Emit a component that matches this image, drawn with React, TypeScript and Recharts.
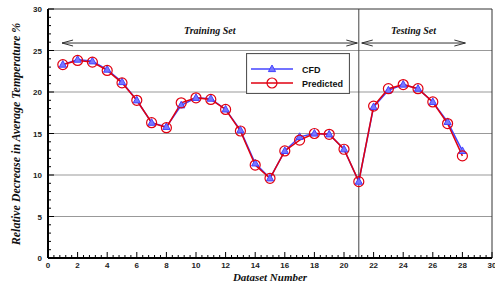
import React from 'react';
import { LineChart, Line, XAxis, YAxis, ReferenceLine } from 'recharts';

const datasetNumbers = [1, 2, 3, 4, 5, 6, 7, 8, 9, 10, 11, 12, 13, 14, 15, 16, 17, 18, 19, 20, 21, 22, 23, 24, 25, 26, 27, 28];
const cfdValues = [23.3, 23.9, 23.7, 22.7, 21.2, 19.0, 16.3, 15.8, 18.4, 19.3, 19.2, 17.9, 15.4, 11.4, 9.6, 12.9, 14.6, 15.0, 14.9, 13.1, 9.2, 18.2, 20.2, 20.9, 20.4, 18.8, 16.4, 12.9];
const predictedValues = [23.3, 23.8, 23.6, 22.6, 21.1, 19.0, 16.3, 15.7, 18.7, 19.3, 19.1, 17.9, 15.3, 11.2, 9.6, 12.9, 14.2, 15.0, 14.9, 13.1, 9.2, 18.3, 20.4, 20.9, 20.4, 18.8, 16.2, 12.3];

const xMajorTicks = [0, 2, 4, 6, 8, 10, 12, 14, 16, 18, 20, 22, 24, 26, 28, 30];
const yMajorTicks = [0, 5, 10, 15, 20, 25, 30];
const gridValues = [5, 10, 15, 20, 25];
const splitAt = 21;
const arrowLevel = 25.9;
const trainingRange = [0.95, 20.9];
const testingRange = [21.2, 28.2];

const xAllTicks: number[] = [];
for (let i = 0; i <= 75; i++) xAllTicks.push(Math.round(i * 4) / 10);
const yAllTicks: number[] = [];
for (let i = 0; i <= 30; i++) yAllTicks.push(i);

const data = datasetNumbers.map((n, i) => ({ n, cfd: cfdValues[i], pred: predictedValues[i] }));

const BLUE = '#4444ff';
const RED = '#e00010';
const serif = '"Liberation Serif", "DejaVu Serif", serif';
const sans = '"Liberation Sans", Arial, sans-serif';

const XTick = (props: any) => {
  const { x, y, payload } = props;
  const v = payload.value;
  const major = xMajorTicks.some((t) => Math.abs(t - v) < 1e-6);
  return (
    <g>
      <line x1={x} x2={x} y1={y} y2={y - (major ? 6 : 3)} stroke="#000" strokeWidth={1} />
      {major && (
        <text x={x} y={y + 10} textAnchor="middle" fontSize={8} fontWeight="bold" fontFamily={sans} fill="#222">
          {v}
        </text>
      )}
    </g>
  );
};

const YTick = (props: any) => {
  const { x, y, payload } = props;
  const v = payload.value;
  const major = yMajorTicks.includes(v);
  return (
    <g>
      <line x1={x} x2={x + (major ? 6 : 3)} y1={y} y2={y} stroke="#000" strokeWidth={1} />
      {major && (
        <text x={x - 6} y={y + 3} textAnchor="end" fontSize={8} fontWeight="bold" fontFamily={sans} fill="#222">
          {v}
        </text>
      )}
    </g>
  );
};

const Triangle = (props: any) => {
  const { cx, cy } = props;
  if (cx == null || cy == null) return null;
  return <path d={`M${cx},${cy - 4} L${cx + 3.6},${cy + 2.6} L${cx - 3.6},${cy + 2.6} Z`} fill="#7777ff" stroke={BLUE} strokeWidth={1} />;
};

const Circle = (props: any) => {
  const { cx, cy } = props;
  if (cx == null || cy == null) return null;
  return <circle cx={cx} cy={cy} r={5} fill="none" stroke={RED} strokeWidth={1.2} />;
};

const makeArrow = (label: string) => (props: any) => {
  const { x1, y1, x2, y2 } = props;
  const lx = Math.min(x1, x2);
  const rx = Math.max(x1, x2);
  const y = y1;
  return (
    <g>
      <line x1={lx} x2={rx} y1={y} y2={y2} stroke="#333" strokeWidth={1} />
      <path d={`M${lx + 11},${y - 3} L${lx},${y} L${lx + 11},${y + 3}`} fill="none" stroke="#333" strokeWidth={1} />
      <path d={`M${rx - 11},${y - 3} L${rx},${y} L${rx - 11},${y + 3}`} fill="none" stroke="#333" strokeWidth={1} />
      <text x={(lx + rx) / 2} y={y - 9} textAnchor="middle" fontSize={10} fontWeight="bold" fontStyle="italic" fontFamily={serif} fill="#111">
        {label}
      </text>
    </g>
  );
};

const LegendBox = () => (
  <svg width={104} height={41} style={{ display: 'block' }}>
    <rect x={0.5} y={0.5} width={103} height={40} fill="#fff" stroke="#555" strokeWidth={1.2} />
    <line x1={5} x2={47} y1={16} y2={16} stroke={BLUE} strokeWidth={1.5} />
    <Triangle cx={26} cy={16} />
    <text x={56} y={19.5} fontSize={9} fontWeight="bold" fontFamily={sans} fill="#111">CFD</text>
    <line x1={5} x2={47} y1={30} y2={30} stroke={RED} strokeWidth={1.5} />
    <Circle cx={26} cy={30} />
    <text x={56} y={33.5} fontSize={9} fontWeight="bold" fontFamily={sans} fill="#111">Predicted</text>
  </svg>
);

export default function App() {
  return (
    <div style={{ position: 'absolute', left: 0, top: 0, width: 495, height: 284, background: '#fff' }}>
      <LineChart width={495} height={284} data={data} margin={{ top: 9, right: 3, left: 0, bottom: 0 }}>
        {gridValues.map((g) => (
          <ReferenceLine key={g} y={g} stroke="#999" strokeWidth={1} />
        ))}
        <ReferenceLine y={30} stroke="#333" strokeWidth={1} />
        <ReferenceLine x={30} stroke="#333" strokeWidth={1} />
        <ReferenceLine x={splitAt} stroke="#444" strokeWidth={1} />
        <ReferenceLine
          segment={[{ x: trainingRange[0], y: arrowLevel }, { x: trainingRange[1], y: arrowLevel }]}
          shape={makeArrow('Training Set')}
        />
        <ReferenceLine
          segment={[{ x: testingRange[0], y: arrowLevel }, { x: testingRange[1], y: arrowLevel }]}
          shape={makeArrow('Testing Set')}
        />
        <XAxis
          dataKey="n"
          type="number"
          domain={[0, 30]}
          ticks={xAllTicks}
          interval={0}
          tickSize={0}
          tickMargin={0}
          tick={<XTick />}
          height={26}
          axisLine={{ stroke: '#000', strokeWidth: 2 }}
          allowDataOverflow
          label={{
            content: () => (
              <text x={270} y={281} textAnchor="middle" fontSize={11} fontWeight="bold" fontStyle="italic" fontFamily={serif} fill="#111">
                Dataset Number
              </text>
            ),
          }}
        />
        <YAxis
          type="number"
          domain={[0, 30]}
          ticks={yAllTicks}
          interval={0}
          tickSize={0}
          tickMargin={0}
          tick={<YTick />}
          width={48}
          axisLine={{ stroke: '#000', strokeWidth: 2 }}
          allowDataOverflow
          label={{
            content: () => (
              <text
                x={20}
                y={134}
                transform="rotate(-90 20 134)"
                textAnchor="middle"
                fontSize={12}
                fontWeight="bold"
                fontStyle="italic"
                fontFamily={serif}
                fill="#111"
              >
                Relative Decrease in Average Temperature %
              </text>
            ),
          }}
        />
        <Line type="linear" dataKey="cfd" name="CFD" stroke={BLUE} strokeWidth={1.5} dot={<Triangle />} activeDot={false} isAnimationActive={false} />
        <Line type="linear" dataKey="pred" name="Predicted" stroke={RED} strokeWidth={1.5} dot={<Circle />} activeDot={false} isAnimationActive={false} />
      </LineChart>
      <div style={{ position: 'absolute', left: 246, top: 53 }}>
        <LegendBox />
      </div>
    </div>
  );
}
